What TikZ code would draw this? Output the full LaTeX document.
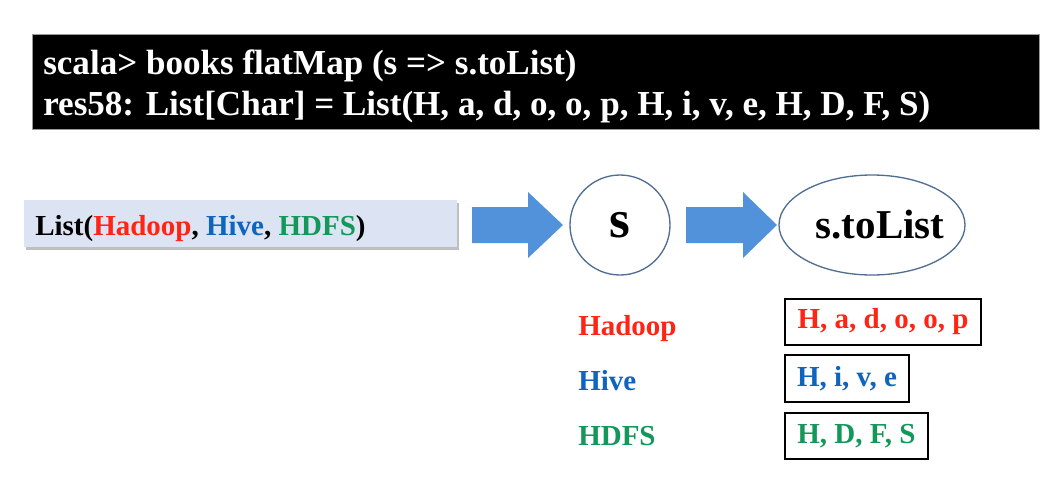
\documentclass[tikz,border=0pt]{standalone}
\usepackage{fontspec}
\setmainfont{Liberation Serif}
\usetikzlibrary{shapes.geometric}
\definecolor{arrowblue}{HTML}{5292DA}
\definecolor{lightbox}{HTML}{DCE3F2}
\definecolor{edgeblue}{HTML}{4F6E92}
\definecolor{tred}{HTML}{FF2414}
\definecolor{tblue}{HTML}{0F64BE}
\definecolor{tgreen}{HTML}{14985A}
\tikzset{
  px/.style={x=0.75pt,y=-0.75pt},
  fbig/.style={font=\bfseries\fontsize{21.75pt}{26pt}\selectfont},
  termtext/.style={anchor=base west,text=white,inner sep=0pt,font=\bfseries\fontsize{26.3pt}{30pt}\selectfont},
  label/.style={anchor=base west,inner sep=0pt,fbig},
  resbox/.style={draw=black,line width=1.5pt,fill=white,inner sep=0pt,fbig,anchor=north west},
  shadowbox/.style={fill=black!25,draw=none,inner sep=0pt,anchor=north west},
  fatarrow/.style={fill=arrowblue,draw=none},
}
\begin{document}
\begin{tikzpicture}[px]
\useasboundingbox (0,0) rectangle (1061,497);
% terminal box
\node[fill=black,draw=black!40,line width=0.75pt,minimum width=1007*0.75pt,minimum height=95*0.75pt,inner sep=0pt,anchor=north west] (term) at (32,34) {};
\node[termtext] (l1) at (43,74) {scala> books flatMap (s => s.toList)};
\node[termtext] (l2) at (43,115) {res58: List[Char] = List(H, a, d, o, o, p, H, i, v, e, H, D, F, S)};
% list box
\node[shadowbox,minimum width=433*0.75pt,minimum height=47*0.75pt] (lstsh) at (26,203) {};
\node[fill=lightbox,inner sep=0pt,minimum width=433*0.75pt,minimum height=47*0.75pt,anchor=north west] (lst) at (24,200) {};
\node[label] (lsttxt) at (35,235) {List(\textcolor{tred}{Hadoop}, \textcolor{tblue}{Hive}, \textcolor{tgreen}{HDFS})};
% circle s
\node[draw=edgeblue,line width=1pt,circle,minimum size=100*0.75pt,inner sep=0pt,font=\bfseries\fontsize{40pt}{44pt}\selectfont] (s) at (620,225) {s};
% ellipse
\node[draw=edgeblue,line width=1pt,ellipse,minimum width=186*0.75pt,minimum height=100*0.75pt,inner sep=0pt] (tl) at (872,225) {};
\node[inner sep=0pt,font=\bfseries\fontsize{30.75pt}{34pt}\selectfont] (tltxt) at ([xshift=8*0.75pt]tl.center) {s.toList};
% fat arrows
\fill[fatarrow] (472,207) -- (528,207) -- (528,192) -- (563,225) -- (528,258) -- (528,243) -- (472,243) -- cycle;
\fill[fatarrow] (686,207) -- (743,207) -- (743,192) -- (777,225) -- (743,258) -- (743,243) -- (686,243) -- cycle;
% labels
\node[label,text=tred] (hadoop) at (578,335) {Hadoop};
\node[label,text=tblue] (hive) at (578,390) {Hive};
\node[label,text=tgreen] (hdfs) at (578,445) {HDFS};
% result boxes
\node[shadowbox,minimum width=196*0.75pt,minimum height=46*0.75pt] at (786,300) {};
\node[resbox,text=tred,minimum width=196*0.75pt,minimum height=46*0.75pt] (r1) at (784,298) {H, a, d, o, o, p};
\node[shadowbox,minimum width=124*0.75pt,minimum height=47*0.75pt] at (786,356) {};
\node[resbox,text=tblue,minimum width=124*0.75pt,minimum height=47*0.75pt] (r2) at (784,354) {H, i, v, e};
\node[shadowbox,minimum width=143*0.75pt,minimum height=46*0.75pt] at (786,414) {};
\node[resbox,text=tgreen,minimum width=143*0.75pt,minimum height=46*0.75pt] (r3) at (784,412) {H, D, F, S};
\end{tikzpicture}
\end{document}
